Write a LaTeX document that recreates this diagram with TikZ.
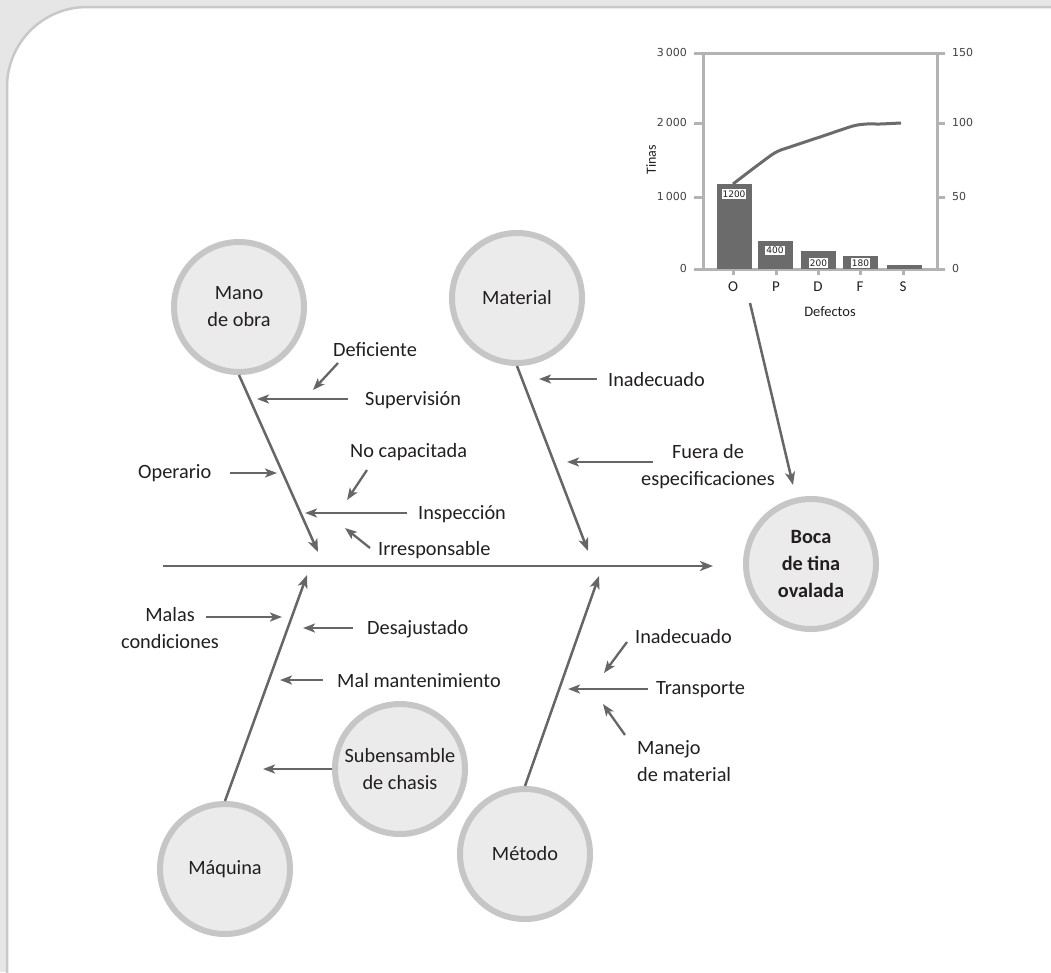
\documentclass[tikz,border=0pt]{standalone}
\usepackage{fontspec}
\setmainfont{Carlito}
\newfontfamily\chartfont{DejaVu Sans}
\usetikzlibrary{arrows.meta}
\definecolor{ink}{HTML}{231F20}
\definecolor{arrowc}{HTML}{666666}
\definecolor{ringc}{HTML}{C6C6C6}
\definecolor{circfill}{HTML}{EBEBEB}
\definecolor{bgc}{HTML}{E6E6E6}
\definecolor{framec}{HTML}{C8C8C8}
\definecolor{axisc}{HTML}{B3B3B3}
\definecolor{barc}{HTML}{6B6B6B}
\newcommand\dfont{\fontsize{20.3}{27}\selectfont}
\begin{document}
\begin{tikzpicture}[x=1pt,y=-1pt,
  cause/.style={circle, draw=ringc, fill=circfill, line width=6pt, minimum size=130pt,
    inner sep=0pt, outer sep=3pt, align=center, text=ink, font=\dfont},
  lbl/.style={inner sep=0pt, text=ink, font=\dfont},
  bone/.style={draw=arrowc, line width=2.5pt, -{Stealth[length=13pt,width=10pt,inset=3.5pt]}},
  arr/.style={draw=arrowc, line width=2.3pt, -{Stealth[length=12pt,width=9pt,inset=3pt]}},
  axis/.style={draw=axisc, line width=3pt},
  numlbl/.style={inner sep=0pt, text=ink!85, font=\chartfont\fontsize{11}{13}\selectfont},
  barlbl/.style={fill=white, inner sep=1pt, text=ink, text height=7pt, text depth=0.5pt,
    font=\chartfont\fontsize{9}{10}\selectfont},
  catlbl/.style={inner sep=0pt, text=ink, font=\fontsize{15}{17}\selectfont}]
\useasboundingbox (0,0) rectangle (1051,972);
% background and panel
\fill[bgc] (0,0) rectangle (1051,972);
\fill[white] (7,1100) [rounded corners=80pt] -- (7,7) -- (1200,7) -- (1200,1100) -- cycle;
\draw[framec, line width=2.5pt] (7,1000) [rounded corners=80pt] -- (7,7) -- (1100,7);

% ---------- Pareto chart ----------
\draw[axis] (703,53) -- (703,269);
\draw[axis] (937,53) -- (937,269);
\draw[axis] (694,53) -- (945,53);
\draw[axis] (694,269) -- (945,269);
\foreach \yy in {123,197} {
  \draw[axis] (694,\yy) -- (703,\yy);
  \draw[axis] (937,\yy) -- (945,\yy);
}
\foreach \xx in {733,776,818,860,903} \draw[axis] (\xx,269) -- (\xx,275);
\fill[barc] (717,184) rectangle (752,269);
\fill[barc] (758,241) rectangle (793,269);
\fill[barc] (801,251) rectangle (836,269);
\fill[barc] (843,256) rectangle (878,269);
\fill[barc] (887,265) rectangle (922,269);
\draw[barc, line width=3pt, line join=round] plot[smooth, tension=0.45] coordinates
  {(733,184) (773,154) (790,147) (820,137) (853,126) (867,124) (880,124) (901,123)};
\node[barlbl] (v1) at (734,194) {1200};
\node[barlbl] (v2) at (775,250.5) {400};
\node[barlbl] (v3) at (818.5,263) {200};
\node[barlbl] (v4) at (860.5,263) {180};
\node[numlbl, anchor=east] (l3) at (687,52) {3\,000};
\node[numlbl, anchor=east] (l2) at (687,122) {2\,000};
\node[numlbl, anchor=east] (l1) at (687,196) {1\,000};
\node[numlbl, anchor=east] (l0) at (687,268) {0};
\node[numlbl, anchor=west] (r3) at (952,52) {150};
\node[numlbl, anchor=west] (r2) at (952,122) {100};
\node[numlbl, anchor=west] (r1) at (952,196) {50};
\node[numlbl, anchor=west] (r0) at (952,268) {0};
\node[catlbl] (cO) at (733,287) {O};
\node[catlbl] (cP) at (776,287) {P};
\node[catlbl] (cD) at (818,287) {D};
\node[catlbl] (cF) at (860,287) {F};
\node[catlbl] (cS) at (903,287) {S};
\node[inner sep=0pt, text=ink, font=\fontsize{14.5}{16}\selectfont] (defectos) at (830,312) {Defectos};
\node[inner sep=0pt, text=ink, font=\fontsize{14}{16}\selectfont, rotate=90] (tinas) at (651,160) {Tinas};

% ---------- cause circles ----------
\node[cause] (mano) at (239,307) {Mano\\de obra};
\node[cause] (material) at (517,298) {Material};
\node[cause, font=\dfont\bfseries] (boca) at (811,564) {Boca\\de tina\\ovalada};
\node[cause] (maquina) at (225,869) {Máquina};
\node[cause] (metodo) at (525,854) {Método};
\node[cause] (sub) at (400,769) {Subensamble\\de chasis};

% ---------- spine and bones ----------
\coordinate (spineL) at (163,566);
\coordinate (spineR) at (713,566);
\draw[bone, line width=2.8pt] (spineL) -- (spineR);
\coordinate (tMano) at (318,552);
\coordinate (tMat) at (588,551);
\coordinate (tMaq) at (307,575);
\coordinate (tMet) at (599,576);
\draw[bone] (mano.south) -- (tMano);
\draw[bone] (material.south) -- (tMat);
\draw[bone] (maquina.north) -- (tMaq);
\draw[bone] (metodo.north) -- (tMet);
\coordinate (chartT) at (750,303);
\coordinate (chartH) at (793,485);
\draw[bone] (chartT) -- (chartH);

% ---------- labels ----------
\node[lbl, anchor=west] (deficiente) at (333,350) {Deficiente};
\node[lbl, anchor=west] (supervision) at (365,400) {Supervisión};
\node[lbl, anchor=west] (operario) at (138,473) {Operario};
\node[lbl, anchor=west] (nocap) at (350,452) {No capacitada};
\node[lbl, anchor=west] (inspeccion) at (418,514) {Inspección};
\node[lbl, anchor=west] (irresp) at (378,550) {Irresponsable};
\node[lbl, anchor=west] (inadec1) at (608,380) {Inadecuado};
\node[lbl, align=center] (fuera) at (708,467) {Fuera de\\especificaciones};
\node[lbl, align=center] (malas) at (170,628) {Malas\\condiciones};
\node[lbl, anchor=west] (desaj) at (367,629) {Desajustado};
\node[lbl, anchor=west] (malmant) at (337,681) {Mal mantenimiento};
\node[lbl, anchor=west] (inadec2) at (635,637) {Inadecuado};
\node[lbl, anchor=west] (transp) at (656,690) {Transporte};
\node[lbl, align=left, anchor=west] (manejo) at (637,761) {Manejo\\de material};

% ---------- sub-cause arrows ----------
\coordinate (defA) at (338,363);   \coordinate (defB) at (313,390);
\coordinate (supA) at (348,399);   \coordinate (supB) at (257,399);
\coordinate (opA) at (230,473);    \coordinate (opB) at (277,473);
\coordinate (ncA) at (367,470);    \coordinate (ncB) at (347,500);
\coordinate (insA) at (407,513);   \coordinate (insB) at (305,513);
\coordinate (irA) at (370,548);    \coordinate (irB) at (345,528);
\coordinate (in1A) at (597,379);   \coordinate (in1B) at (539,379);
\coordinate (fuA) at (653,462);    \coordinate (fuB) at (567,462);
\coordinate (maA) at (206,617);    \coordinate (maB) at (282,617);
\coordinate (deA) at (353,628);    \coordinate (deB) at (303,628);
\coordinate (mmA) at (323,680);    \coordinate (mmB) at (280,680);
\coordinate (subB) at (263,769);
\coordinate (in2A) at (627,642);   \coordinate (in2B) at (604,673);
\coordinate (trA) at (648,689);    \coordinate (trB) at (568,689);
\coordinate (mjA) at (625,735);    \coordinate (mjB) at (603,704);
\draw[arr] (defA) -- (defB);
\draw[arr] (supA) -- (supB);
\draw[arr] (opA) -- (opB);
\draw[arr] (ncA) -- (ncB);
\draw[arr] (insA) -- (insB);
\draw[arr] (irA) -- (irB);
\draw[arr] (in1A) -- (in1B);
\draw[arr] (fuA) -- (fuB);
\draw[arr] (maA) -- (maB);
\draw[arr] (deA) -- (deB);
\draw[arr] (mmA) -- (mmB);
\draw[arr] (sub.west) -- (subB);
\draw[arr] (in2A) -- (in2B);
\draw[arr] (trA) -- (trB);
\draw[arr] (mjA) -- (mjB);
\end{tikzpicture}
\end{document}
